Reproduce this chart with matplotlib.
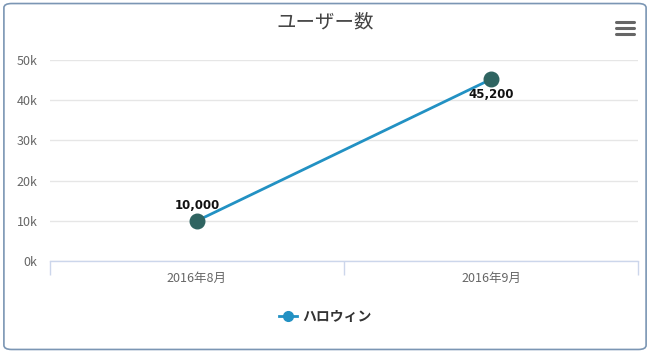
import matplotlib.pyplot as plt
from matplotlib.patches import FancyBboxPatch
from matplotlib.lines import Line2D
from matplotlib.ticker import FuncFormatter

plt.rcParams['font.family'] = ['Noto Sans CJK JP', 'DejaVu Sans']

months = ['2016年8月', '2016年9月']
users = [10000, 45200]
series_name = 'ハロウィン'
title = 'ユーザー数'

line_color = '#2291c3'
point_color = '#2f6461'

fig = plt.figure(figsize=(6.5, 3.53), dpi=100)

# rounded frame around the whole chart
frame = FancyBboxPatch((0.006, 0.01), 0.988, 0.98, boxstyle='round,pad=0,rounding_size=0.012',
                       transform=fig.transFigure, facecolor='none', edgecolor='#7b96b4',
                       linewidth=1.2, zorder=5)
fig.patches.append(frame)

ax = fig.add_axes([0.0769, 0.2606, 0.9046, 0.5694])
ax.set_facecolor('none')

x = list(range(len(months)))
ax.plot(x, users, color=line_color, linewidth=2, zorder=3)
ax.scatter(x, users, s=110, color=point_color, zorder=4)

ax.annotate(f'{users[0]:,}', (x[0], users[0]), xytext=(0, 6.5), textcoords='offset points',
            ha='center', va='bottom', fontsize=8.5, fontweight='bold', color='#111111',
            family='DejaVu Sans')
ax.annotate(f'{users[1]:,}', (x[1], users[1]), xytext=(0, -6.5), textcoords='offset points',
            ha='center', va='top', fontsize=8.5, fontweight='bold', color='#111111',
            family='DejaVu Sans')

ax.set_xlim(-0.5, len(months) - 0.5)
ax.set_ylim(0, 50000)
ax.set_yticks(range(0, 50001, 10000))
ax.yaxis.set_major_formatter(FuncFormatter(lambda v, p: f'{int(v / 1000)}k'))
ax.grid(axis='y', color='#e6e6e6', linewidth=1)
ax.set_axisbelow(True)

ax.set_xticks(x)
ax.set_xticklabels(months)
ax.set_xticks([-0.5, 0.5, 1.5], minor=True)
ax.tick_params(axis='x', which='major', length=0, pad=8, labelsize=9, labelcolor='#666666')
ax.tick_params(axis='x', which='minor', length=10, color='#ccd6eb', width=1)
ax.tick_params(axis='y', length=0, pad=9, labelsize=9, labelcolor='#666666')

for s in ['top', 'right', 'left']:
    ax.spines[s].set_visible(False)
ax.spines['bottom'].set_color('#ccd6eb')
ax.spines['bottom'].set_linewidth(1)

fig.text(0.5, 0.937, title, ha='center', va='center', fontsize=14, color='#444444')

# menu icon
for yy in [0.905, 0.922, 0.939]:
    fig.add_artist(Line2D([0.947, 0.975], [yy, yy], color='#666666', linewidth=2.2,
                          solid_capstyle='round'))

handle = Line2D([], [], color=line_color, linewidth=2, marker='o', markersize=7,
                markerfacecolor=line_color, markeredgecolor=line_color)
fig.legend([handle], [series_name], loc='center', bbox_to_anchor=(0.5, 0.102), frameon=False,
           handlelength=1.3, handletextpad=0.4, prop={'size': 10, 'weight': 'bold'},
           labelcolor='#333333')

fig.savefig('out.png', dpi=100)
